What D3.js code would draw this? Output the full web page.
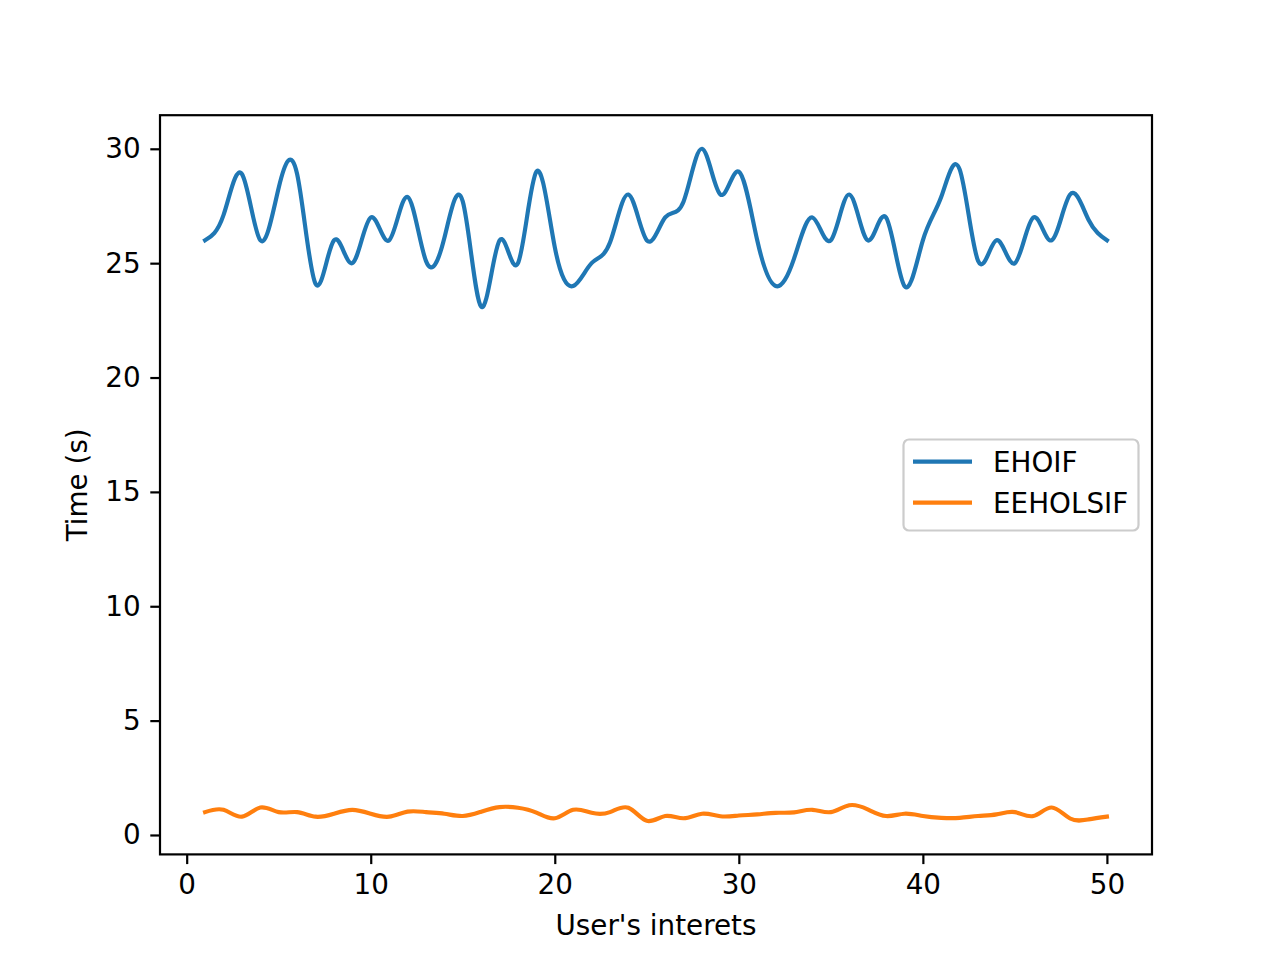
<!DOCTYPE html>
<html>
<head>
<meta charset="utf-8">
<script src="https://cdn.jsdelivr.net/npm/d3@7"></script>
<style>
  body { margin: 0; background: #fff; }
  text { font-family: "DejaVu Sans", sans-serif; }
</style>
</head>
<body>
<script>
// user interests 1..50
const interests = d3.range(1, 51);

const ehoif = [26, 27.1, 28.9, 26, 28.3, 28.9, 24.1, 26, 25, 27,
               26, 27.9, 25.1, 26.1, 27.7, 23.1, 26, 25, 29, 25.7,
               24, 25, 25.9, 28, 26, 27, 27.7, 30, 28, 29,
               26, 24, 25.2, 27, 26, 28, 26, 27, 24, 26,
               27.9, 29.1, 25.1, 26, 25, 27, 26, 28, 26.9, 26];

const eeholsif = [1.0, 1.1, 0.8, 1.2, 1.0, 1.0, 0.8, 0.93, 1.1, 0.93,
                  0.8, 1.02, 1.0, 0.93, 0.83, 1.02, 1.22, 1.19, 0.98, 0.73,
                  1.1, 0.97, 1.0, 1.19, 0.62, 0.83, 0.73, 0.93, 0.82, 0.85,
                  0.9, 0.97, 0.99, 1.1, 1.0, 1.3, 1.12, 0.83, 0.93, 0.83,
                  0.75, 0.75, 0.83, 0.9, 1.0, 0.83, 1.2, 0.72, 0.68, 0.8];

const seriesNames = ["EHOIF", "EEHOLSIF"];
const colors = ["#1f77b4", "#ff7f0e"];
const xTicks = [0, 10, 20, 30, 40, 50];
const yTicks = [0, 5, 10, 15, 20, 25, 30];

const W = 1280, H = 960;
const axL = 160, axR = 1152, axT = 115.2, axB = 854.4;
const fs = 27.8;

const svg = d3.select("body").append("svg").attr("width", W).attr("height", H);

// matplotlib style 5% margins
const xMin = d3.min(interests), xMax = d3.max(interests);
const xPad = (xMax - xMin) * 0.05;
const x = d3.scaleLinear().domain([xMin - xPad, xMax + xPad]).range([axL, axR]);

const allY = ehoif.concat(eeholsif);
const yMin = d3.min(allY), yMax = d3.max(allY);
const yPad = (yMax - yMin) * 0.05;
const y = d3.scaleLinear().domain([yMin - yPad, yMax + yPad]).range([axB, axT]);

const line = d3.line()
    .x((d, i) => x(interests[i]))
    .y(d => y(d))
    .curve(d3.curveNatural);

[ehoif, eeholsif].forEach(function(s, k) {
    svg.append("path")
        .attr("d", line(s))
        .attr("fill", "none")
        .attr("stroke", colors[k])
        .attr("stroke-width", 4.17)
        .attr("stroke-linejoin", "round")
        .attr("stroke-linecap", "square");
});

// axes
const xAxis = d3.axisBottom(x).tickValues(xTicks).tickSize(9.7).tickPadding(9.7);
const yAxis = d3.axisLeft(y).tickValues(yTicks).tickSize(9.7).tickPadding(9.7);

const gx = svg.append("g").attr("transform", "translate(0," + axB + ")").call(xAxis);
const gy = svg.append("g").attr("transform", "translate(" + axL + ",0)").call(yAxis);

[gx, gy].forEach(function(g) {
    g.select(".domain").remove();
    g.selectAll("line").attr("stroke", "#000").attr("stroke-width", 2.2);
    g.selectAll("text").attr("font-size", fs).attr("fill", "#000")
        .attr("font-family", "DejaVu Sans, sans-serif");
});

// frame
svg.append("rect")
    .attr("x", axL).attr("y", axT)
    .attr("width", axR - axL).attr("height", axB - axT)
    .attr("fill", "none").attr("stroke", "#000").attr("stroke-width", 2.2);

// labels
svg.append("text")
    .attr("x", (axL + axR) / 2).attr("y", 935)
    .attr("text-anchor", "middle").attr("font-size", fs)
    .text("User's interets");

svg.append("text")
    .attr("transform", "translate(87," + (axT + axB) / 2 + ") rotate(-90)")
    .attr("text-anchor", "middle").attr("font-size", fs)
    .text("Time (s)");

// legend
const lg = svg.append("g");
lg.append("rect")
    .attr("x", 903.5).attr("y", 439.5)
    .attr("width", 235).attr("height", 91)
    .attr("rx", 5.5)
    .attr("fill", "#fff").attr("fill-opacity", 0.8)
    .attr("stroke", "#cccccc").attr("stroke-width", 2.2);

seriesNames.forEach(function(name, k) {
    const cy = 461.7 + k * 41;
    lg.append("line")
        .attr("x1", 913).attr("x2", 972)
        .attr("y1", cy).attr("y2", cy)
        .attr("stroke", colors[k]).attr("stroke-width", 4.17);
    lg.append("text")
        .attr("x", 993).attr("y", cy + 10)
        .attr("font-size", fs)
        .text(name);
});
</script>
</body>
</html>
